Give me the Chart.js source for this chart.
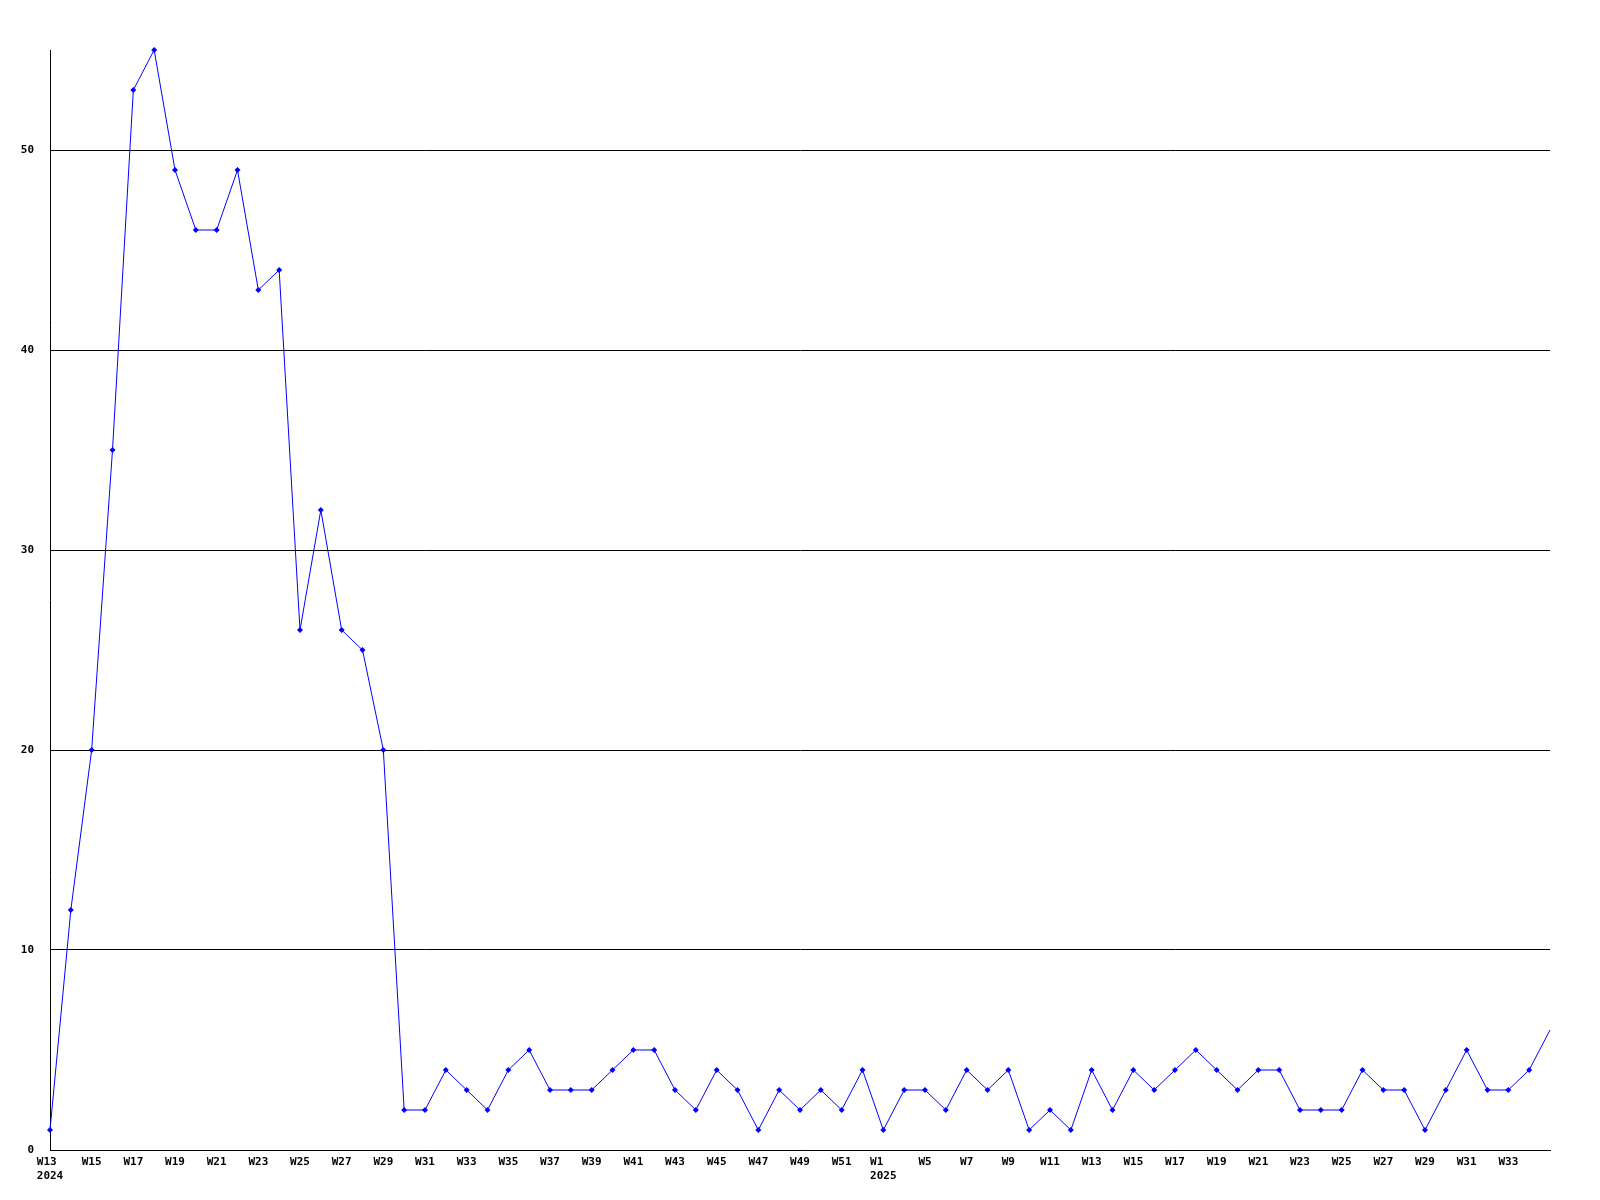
<!DOCTYPE html>
<html>
<head>
<meta charset="utf-8">
<script src="https://cdn.jsdelivr.net/npm/chart.js@4/dist/chart.umd.min.js"></script>
<style>
html,body{margin:0;padding:0;background:#fff;}
#wrap{width:1600px;height:1200px;}
</style>
</head>
<body>
<div id="wrap"><canvas id="c" width="1600" height="1200"></canvas></div>
<script>
const weeks2024 = ['W13','W14','W15','W16','W17','W18','W19','W20','W21','W22','W23','W24','W25','W26','W27','W28','W29','W30','W31','W32','W33','W34','W35','W36','W37','W38','W39','W40','W41','W42','W43','W44','W45','W46','W47','W48','W49','W50','W51','W52'];
const weeks2025 = ['W1','W3','W5','W6','W7','W8','W9','W10','W11','W12','W13','W14','W15','W16','W17','W18','W19','W20','W21','W22','W23','W24','W25','W26','W27','W28','W29','W30','W31','W32','W33','W34','W35'];
const values2024 = [1,12,20,35,53,55,49,46,46,49,43,44,26,32,26,25,20,2,2,4,3,2,4,5,3,3,3,4,5,5,3,2,4,3,1,3,2,3,2,4];
const values2025 = [1,3,3,2,4,3,4,1,2,1,4,2,4,3,4,5,4,3,4,4,2,2,2,4,3,3,1,3,5,3,3,4,6];
const yTicks = [0,10,20,30,40,50];
const yMax = 55;

const labels = weeks2024.concat(weeks2025);
const values = values2024.concat(values2025);
const yearStart = {0:'2024', [weeks2024.length]:'2025'};
const lastIdx = values.length - 1;

const font = {family:'"DejaVu Sans Mono", "Liberation Mono", monospace', size:11, weight:'bold'};

new Chart(document.getElementById('c'), {
  type:'line',
  data:{
    labels: labels,
    datasets:[{
      data: values,
      borderColor:'#0000ff',
      backgroundColor:'#0000ff',
      borderWidth:1,
      pointStyle:'rectRot',
      pointRadius: ctx => ctx.dataIndex === lastIdx ? 0 : 3,
      pointBorderWidth:0,
      tension:0,
      clip:false
    }]
  },
  options:{
    responsive:false,
    animation:false,
    devicePixelRatio:1,
    layout:{padding:{top:50,right:50,bottom:0,left:0}},
    plugins:{legend:{display:false},tooltip:{enabled:false}},
    scales:{
      x:{
        offset:false,
        grid:{display:false, drawTicks:false},
        border:{display:true,color:'#000',width:1},
        ticks:{
          autoSkip:false,maxRotation:0,minRotation:0,color:'#000',font:font,padding:6,
          callback:(v,i)=>{
            if(i%2!==0 || i===lastIdx) return '';
            if(yearStart[i]){
              const y = yearStart[i];
              return [labels[i].padEnd(y.length,' '), y];
            }
            return labels[i];
          }
        },
        afterFit:s=>{s.height=50;}
      },
      y:{
        min:0,max:yMax,
        afterBuildTicks:a=>{a.ticks = yTicks.map(v=>({value:v}));},
        grid:{color:'#000',lineWidth:1,drawTicks:false},
        border:{display:true,color:'#000',width:1},
        ticks:{color:'#000',font:font,padding:16},
        afterFit:s=>{s.width=50;}
      }
    }
  }
});
</script>
</body>
</html>
